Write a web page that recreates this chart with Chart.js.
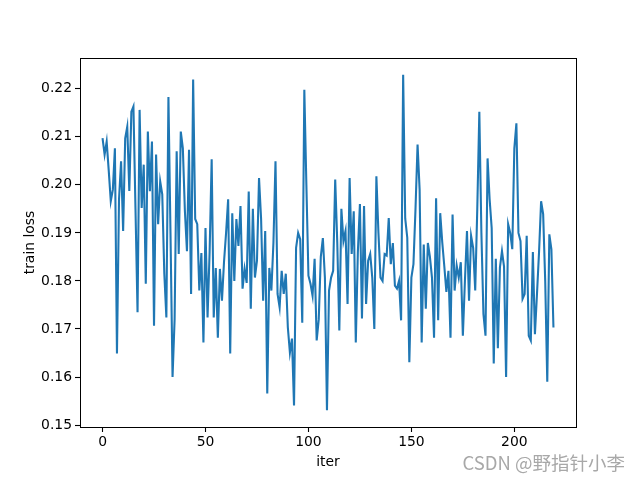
<!DOCTYPE html>
<html>
<head>
<meta charset="utf-8">
<script src="https://cdn.jsdelivr.net/npm/chart.js@4.4.1/dist/chart.umd.min.js"></script>
<style>
  html, body { margin: 0; padding: 0; background: #fff; }
  #wrap { width: 640px; height: 480px; }
</style>
</head>
<body>
<div id="wrap"><canvas id="chart" width="640" height="480"></canvas></div>
<script>
// train loss per iteration
const trainLoss = [
  0.2097, 0.2063, 0.2090, 0.2030, 0.1966, 0.1990, 0.2076, 0.1649, 0.1970, 0.2049,
  0.1904, 0.2097, 0.2121, 0.1987, 0.2152, 0.2163, 0.1950, 0.1735, 0.2156, 0.1952,
  0.2042, 0.1794, 0.2111, 0.1987, 0.2090, 0.1707, 0.2063, 0.1918, 0.2007, 0.1980,
  0.1815, 0.1724, 0.2183, 0.1900, 0.1600, 0.1720, 0.2070, 0.1856, 0.2111, 0.2076,
  0.1945, 0.1862, 0.2073, 0.1773, 0.2219, 0.1929, 0.1918, 0.1780, 0.1858, 0.1672,
  0.1910, 0.1724, 0.1860, 0.2053, 0.1724, 0.1827, 0.1682, 0.1825, 0.1759, 0.1840,
  0.1900, 0.1970, 0.1649, 0.1941, 0.1800, 0.1929, 0.1873, 0.1956, 0.1784, 0.1825,
  0.1796, 0.1986, 0.1742, 0.1950, 0.1807, 0.1842, 0.2014, 0.1930, 0.1759, 0.1904,
  0.1566, 0.1827, 0.1780, 0.1880, 0.2049, 0.1773, 0.1745, 0.1821, 0.1773, 0.1815,
  0.1703, 0.1651, 0.1680, 0.1541, 0.1869, 0.1900, 0.1887, 0.1713, 0.2198, 0.2000,
  0.1811, 0.1794, 0.1769, 0.1846, 0.1676, 0.1720, 0.1850, 0.1889, 0.1807, 0.1531,
  0.1780, 0.1807, 0.1821, 0.2011, 0.1880, 0.1697, 0.1950, 0.1883, 0.1904, 0.1752,
  0.2014, 0.1856, 0.1945, 0.1672, 0.1860, 0.1960, 0.1722, 0.1956, 0.1752, 0.1842,
  0.1856, 0.1807, 0.1700, 0.2018, 0.1900, 0.1807, 0.1800, 0.1856, 0.1853, 0.1931,
  0.1835, 0.1879, 0.1790, 0.1784, 0.1800, 0.1718, 0.2229, 0.1930, 0.1890, 0.1631,
  0.1807, 0.1835, 0.1950, 0.2084, 0.1990, 0.1672, 0.1876, 0.1742, 0.1879, 0.1850,
  0.1807, 0.1682, 0.1972, 0.1718, 0.1941, 0.1880, 0.1830, 0.1777, 0.1821, 0.1682,
  0.1938, 0.1780, 0.1832, 0.1807, 0.1839, 0.1686, 0.1800, 0.1904, 0.1759, 0.1894,
  0.1869, 0.1780, 0.1950, 0.2152, 0.1900, 0.1731, 0.1686, 0.2055, 0.1970, 0.1910,
  0.1628, 0.1846, 0.1660, 0.1828, 0.1862, 0.1830, 0.1600, 0.1918, 0.1900, 0.1866,
  0.2076, 0.2128, 0.1900, 0.1883, 0.1763, 0.1773, 0.1894, 0.1686, 0.1676, 0.1860,
  0.1689, 0.1773, 0.1860, 0.1966, 0.1939, 0.1800, 0.1590, 0.1897, 0.1866, 0.1703
];
const iters = trainLoss.map((_, i) => i);
const xTicks = [0, 50, 100, 150, 200];
const yTicks = [0.15, 0.16, 0.17, 0.18, 0.19, 0.20, 0.21, 0.22];

const font = { family: "'DejaVu Sans', sans-serif", size: 13.9 };

// matplotlib style box around the axes
const frame = {
  id: "frame",
  afterDraw(chart) {
    const { ctx, chartArea: a } = chart;
    ctx.save();
    ctx.strokeStyle = "#000";
    ctx.lineWidth = 1;
    ctx.strokeRect(Math.round(a.left) + 0.5, Math.round(a.top) + 0.5,
      Math.round(a.right - a.left), Math.round(a.bottom - a.top));
    ctx.restore();
  },
};

const watermark = {
  id: "watermark",
  afterDraw(chart) {
    const ctx = chart.ctx;
    ctx.save();
    ctx.font = "18.5px 'Noto Sans CJK SC', sans-serif";
    ctx.textAlign = "right";
    ctx.textBaseline = "alphabetic";
    ctx.fillStyle = "#ffffff";
    ctx.fillText("CSDN @野指针小李", 626, 471);
    ctx.fillStyle = "#a8a8a8";
    ctx.fillText("CSDN @野指针小李", 625, 470);
    ctx.restore();
  },
};

new Chart(document.getElementById("chart"), {
  type: "line",
  data: {
    datasets: [{
      data: iters.map((x, i) => ({ x, y: trainLoss[i] })),
      borderColor: "#1f77b4",
      borderWidth: 2.08,
      pointRadius: 0,
      tension: 0,
      fill: false,
    }],
  },
  options: {
    responsive: false,
    animation: false,
    devicePixelRatio: 1,
    layout: { padding: { left: 0, top: 58, right: 64, bottom: 0 } },
    plugins: { legend: { display: false }, tooltip: { enabled: false } },
    scales: {
      x: {
        type: "linear",
        min: -10.95,
        max: 229.95,
        afterBuildTicks: (s) => { s.ticks = xTicks.map((v) => ({ value: v })); },
        afterFit: (s) => { s.height = 53; },
        ticks: { font, color: "#000", maxRotation: 0, padding: 2 },
        grid: { drawOnChartArea: false, drawTicks: true, tickLength: 5, tickWidth: 1.1, tickColor: "#000" },
        border: { display: true, color: "#000" },
        title: { display: true, text: "iter", font, color: "#000", padding: { top: 0, bottom: 9 } },
      },
      y: {
        min: 0.1496,
        max: 0.2264,
        afterBuildTicks: (s) => { s.ticks = yTicks.map((v) => ({ value: v })); },
        afterFit: (s) => { s.width = 80; },
        ticks: { font, color: "#000", padding: 3, callback: (v) => v.toFixed(2) },
        grid: { drawOnChartArea: false, drawTicks: true, tickLength: 5, tickWidth: 1.1, tickColor: "#000" },
        border: { display: true, color: "#000" },
        title: { display: true, text: "train loss", font, color: "#000", padding: { top: 22, bottom: 0 } },
      },
    },
  },
  plugins: [frame, watermark],
});
</script>
</body>
</html>
